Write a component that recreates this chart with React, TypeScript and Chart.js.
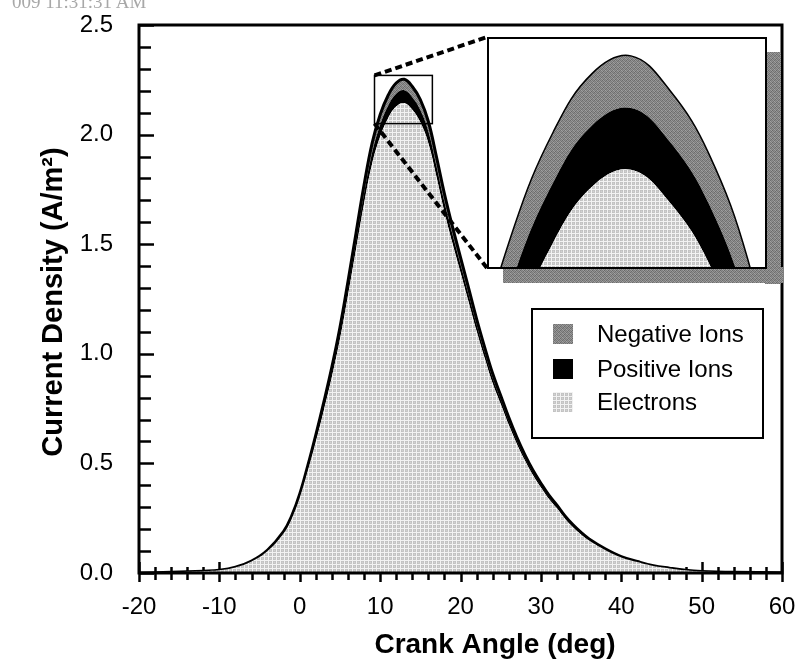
import React, { useEffect, useRef } from "react";
import { Chart, registerables } from "chart.js";
Chart.register(...registerables);

// ---------- data ----------
const crankAngle = [-20, -16, -12, -10, -8, -6, -4, -2, -1, 0, 1, 2, 3, 4, 5, 6, 7, 8, 9, 10, 11, 12, 13, 14, 15, 16, 17, 18, 19, 20, 21, 22, 23, 24, 25, 26, 27, 28, 29, 30, 31, 32, 33, 34, 35, 36, 38, 40, 42, 44, 46, 48, 50, 54, 60];
const electrons = [0, 0.003, 0.008, 0.012, 0.025, 0.052, 0.1, 0.181, 0.248, 0.343, 0.466, 0.6, 0.743, 0.895, 1.066, 1.266, 1.476, 1.685, 1.866, 1.99, 2.075, 2.128, 2.144, 2.113, 2.056, 1.961, 1.809, 1.647, 1.504, 1.371, 1.238, 1.104, 0.981, 0.866, 0.771, 0.676, 0.59, 0.514, 0.447, 0.39, 0.338, 0.295, 0.248, 0.209, 0.176, 0.148, 0.105, 0.071, 0.05, 0.032, 0.021, 0.012, 0.007, 0.003, 0.001];
const positiveIons = [0, 0.0001, 0.0002, 0.0003, 0.0007, 0.0014, 0.0027, 0.0049, 0.0068, 0.0094, 0.0127, 0.0164, 0.0203, 0.0244, 0.0291, 0.0346, 0.0403, 0.046, 0.051, 0.0543, 0.0567, 0.0581, 0.0586, 0.0577, 0.0562, 0.0536, 0.0494, 0.045, 0.0411, 0.0374, 0.0338, 0.0302, 0.0268, 0.0237, 0.0211, 0.0185, 0.0161, 0.014, 0.0122, 0.0107, 0.0092, 0.0081, 0.0068, 0.0057, 0.0048, 0.004, 0.0029, 0.002, 0.0014, 0.0009, 0.0006, 0.0003, 0.0002, 0.0001, 0];
const negativeIons = [0, 0.0001, 0.0002, 0.0003, 0.0006, 0.0012, 0.0023, 0.0042, 0.0057, 0.0079, 0.0108, 0.0139, 0.0172, 0.0207, 0.0246, 0.0293, 0.0341, 0.0389, 0.0431, 0.046, 0.048, 0.0492, 0.0495, 0.0488, 0.0475, 0.0453, 0.0418, 0.0381, 0.0348, 0.0317, 0.0286, 0.0255, 0.0227, 0.02, 0.0178, 0.0156, 0.0136, 0.0119, 0.0103, 0.009, 0.0078, 0.0068, 0.0057, 0.0048, 0.0041, 0.0034, 0.0024, 0.0017, 0.0011, 0.0007, 0.0005, 0.0003, 0.0002, 0.0001, 0];
const seriesNames = ["Electrons", "Positive Ions", "Negative Ions"];
const xTickLabels = [-20, -10, 0, 10, 20, 30, 40, 50, 60];
const yTickLabels = [0, 0.5, 1.0, 1.5, 2.0, 2.5];
const xRange = [-20, 60];
const yRange = [0, 2.5];
const zoomXRange = [9.3, 16.5];
const zoomYRange = [2.05, 2.27];
const xTitle = "Crank Angle (deg)";
const yTitle = "Current Density (A/m\u00B2)";
const stampText = "009 11:31:31 AM";

// ---------- styling ----------
const FONT = "'Liberation Sans', Arial, Helvetica, sans-serif";
const W = 796;
const H = 668;
const INSET = { left: 487, top: 37, width: 280, height: 232 };

const electronTile = [
  ["#f2f2f2", "#f2f2f2", "#f2f2f2", "#f2f2f2"],
  ["#f2f2f2", "#c2c2c2", "#c6c6c6", "#c0c0c0"],
  ["#f2f2f2", "#c6c6c6", "#d2d2d2", "#c4c4c4"],
  ["#f2f2f2", "#c0c0c0", "#c4c4c4", "#c8c8c8"],
];
const negativeTile = [
  ["#7a7a7a", "#9a9a9a", "#6e6e6e", "#8c8c8c"],
  ["#949494", "#727272", "#a2a2a2", "#7e7e7e"],
  ["#686868", "#8e8e8e", "#7c7c7c", "#9e9e9e"],
  ["#9a9a9a", "#767676", "#909090", "#6c6c6c"],
];

function makePattern(ctx: CanvasRenderingContext2D, tile: string[][]) {
  const c = document.createElement("canvas");
  c.width = tile[0].length;
  c.height = tile.length;
  const g = c.getContext("2d")!;
  tile.forEach((row, y) =>
    row.forEach((col, x) => {
      g.fillStyle = col;
      g.fillRect(x, y, 1, 1);
    })
  );
  return ctx.createPattern(c, "repeat")!;
}

function buildDatasets(ctx: CanvasRenderingContext2D, outline: number) {
  const ePat = makePattern(ctx, electronTile);
  const nPat = makePattern(ctx, negativeTile);
  const pts = (arr: number[]) => crankAngle.map((x, i) => ({ x, y: arr[i] }));
  const common = { pointRadius: 0, tension: 0.4 };
  return [
    { ...common, label: seriesNames[0], data: pts(electrons), backgroundColor: ePat, borderWidth: 0, borderColor: "rgba(0,0,0,0)", fill: "origin" },
    { ...common, label: seriesNames[1], data: pts(positiveIons), backgroundColor: "#000000", borderWidth: 0, borderColor: "rgba(0,0,0,0)", fill: "-1" },
    { ...common, label: seriesNames[2], data: pts(negativeIons), backgroundColor: nPat, borderWidth: outline, borderColor: "#000000", fill: "-1" },
  ];
}

const mainDecor = {
  id: "mainDecor",
  beforeDraw(chart: any) {
    const { ctx, width, height } = chart;
    ctx.save();
    ctx.fillStyle = "#ffffff";
    ctx.fillRect(0, 0, width, height);
    ctx.restore();
  },
  beforeDatasetsDraw(chart: any) {
    const { ctx, chartArea } = chart;
    const xs = chart.scales.x;
    const ys = chart.scales.y;
    ctx.save();
    ctx.strokeStyle = "#000";
    ctx.lineWidth = 2.5;
    for (let i = 0; i <= 25; i++) {
      const y = Math.round(ys.getPixelForValue(i / 10)) + 0.5;
      const len = i % 5 === 0 ? 15 : 12;
      ctx.beginPath();
      ctx.moveTo(chartArea.left, y);
      ctx.lineTo(chartArea.left + len, y);
      ctx.stroke();
    }
    for (let v = xRange[0]; v <= xRange[1]; v += 2) {
      const x = Math.round(xs.getPixelForValue(v)) + 0.5;
      const major = v % 10 === 0;
      ctx.beginPath();
      ctx.moveTo(x, chartArea.bottom - (major ? 11 : 6));
      ctx.lineTo(x, chartArea.bottom + (major ? 9 : 7));
      ctx.stroke();
    }
    ctx.restore();
  },
  afterDatasetsDraw(chart: any) {
    const { ctx, chartArea } = chart;
    const xs = chart.scales.x;
    const ys = chart.scales.y;
    ctx.save();
    ctx.strokeStyle = "#000";
    ctx.lineWidth = 3;
    ctx.strokeRect(chartArea.left, chartArea.top, chartArea.right - chartArea.left, chartArea.bottom - chartArea.top);

    const bx0 = xs.getPixelForValue(zoomXRange[0]);
    const bx1 = xs.getPixelForValue(zoomXRange[1]);
    const by0 = ys.getPixelForValue(zoomYRange[1]);
    const by1 = ys.getPixelForValue(zoomYRange[0]);
    ctx.lineWidth = 1.5;
    ctx.strokeRect(bx0, by0, bx1 - bx0, by1 - by0);

    const shadow = makePattern(ctx, negativeTile);
    ctx.fillStyle = shadow;
    ctx.fillRect(INSET.left + INSET.width - 2, INSET.top + 15, 16, INSET.height);
    ctx.fillRect(INSET.left + 16, INSET.top + INSET.height - 2, INSET.width, 16);

    ctx.setLineDash([7, 4]);
    ctx.lineWidth = 4;
    ctx.beginPath();
    ctx.moveTo(bx0, by0);
    ctx.lineTo(INSET.left, INSET.top);
    ctx.moveTo(bx0, by1);
    ctx.lineTo(INSET.left, INSET.top + INSET.height - 1);
    ctx.stroke();
    ctx.setLineDash([]);

    const lx = 532, ly = 309, lw = 231, lh = 129;
    ctx.fillStyle = "#fff";
    ctx.fillRect(lx, ly, lw, lh);
    ctx.lineWidth = 2;
    ctx.strokeStyle = "#000";
    ctx.strokeRect(lx, ly, lw, lh);
    const ds = chart.data.datasets.slice().reverse();
    const rowY = [334, 369, 402];
    ctx.font = `24px ${FONT}`;
    ctx.textBaseline = "middle";
    ctx.textAlign = "left";
    ds.forEach((d: any, i: number) => {
      ctx.fillStyle = d.backgroundColor;
      ctx.fillRect(553, rowY[i] - 10, 20, 20);
      ctx.fillStyle = "#000";
      ctx.fillText(d.label, 597, rowY[i] + 1);
    });

    ctx.font = `bold 28px ${FONT}`;
    ctx.fillStyle = "#000";
    ctx.textAlign = "center";
    ctx.textBaseline = "middle";
    ctx.fillText(xTitle, 495, 645);
    ctx.save();
    ctx.translate(54, 302);
    ctx.rotate(-Math.PI / 2);
    ctx.font = `bold 29px ${FONT}`;
    ctx.fillText(yTitle, 0, 0);
    ctx.restore();
    ctx.restore();
  },
};

const insetDecor = {
  id: "insetDecor",
  beforeDraw(chart: any) {
    const { ctx, width, height } = chart;
    ctx.save();
    ctx.fillStyle = "#ffffff";
    ctx.fillRect(0, 0, width, height);
    ctx.restore();
  },
  afterDraw(chart: any) {
    const { ctx, width, height } = chart;
    ctx.save();
    ctx.strokeStyle = "#000";
    ctx.lineWidth = 2;
    ctx.strokeRect(1, 1, width - 2, height - 2);
    ctx.restore();
  },
};

export default function App() {
  const mainRef = useRef<HTMLCanvasElement>(null);
  const insetRef = useRef<HTMLCanvasElement>(null);

  useEffect(() => {
    const mctx = mainRef.current!.getContext("2d")!;
    const main = new Chart(mctx, {
      type: "line",
      data: { datasets: buildDatasets(mctx, 3) as any },
      plugins: [mainDecor],
      options: {
        responsive: false,
        animation: false,
        layout: { padding: { left: 0, top: 25, right: 14, bottom: 0 } },
        plugins: { legend: { display: false }, tooltip: { enabled: false }, title: { display: false } },
        scales: {
          x: {
            type: "linear",
            min: xRange[0],
            max: xRange[1],
            afterBuildTicks: (s: any) => { s.ticks = xTickLabels.map((v) => ({ value: v })); },
            afterFit: (s: any) => { s.height = H - 573; s.paddingLeft = 0; s.paddingRight = 0; },
            ticks: { color: "#000", font: { family: FONT, size: 24 }, padding: 20, maxRotation: 0, autoSkip: false, callback: (v: any) => String(v) },
            grid: { display: false, drawTicks: false },
            border: { display: false },
          },
          y: {
            type: "linear",
            min: yRange[0],
            max: yRange[1],
            stacked: true,
            afterBuildTicks: (s: any) => { s.ticks = yTickLabels.map((v) => ({ value: v })); },
            afterFit: (s: any) => { s.width = 139; s.paddingTop = 0; s.paddingBottom = 0; },
            ticks: { color: "#000", font: { family: FONT, size: 24 }, padding: 26, autoSkip: false, callback: (v: any) => Number(v).toFixed(1) },
            grid: { display: false, drawTicks: false },
            border: { display: false },
          },
        },
      } as any,
    });

    const ictx = insetRef.current!.getContext("2d")!;
    const inset = new Chart(ictx, {
      type: "line",
      data: { datasets: buildDatasets(ictx, 1.5) as any },
      plugins: [insetDecor],
      options: {
        responsive: false,
        animation: false,
        layout: { padding: 0 },
        plugins: { legend: { display: false }, tooltip: { enabled: false } },
        scales: {
          x: { type: "linear", display: false, min: zoomXRange[0], max: zoomXRange[1] },
          y: { type: "linear", display: false, min: zoomYRange[0], max: zoomYRange[1], stacked: true },
        },
      } as any,
    });

    return () => {
      main.destroy();
      inset.destroy();
    };
  }, []);

  return (
    <div style={{ position: "fixed", left: 0, top: 0, width: W, height: H, background: "#fff", overflow: "hidden" }}>
      <canvas ref={mainRef} width={W} height={H} style={{ position: "absolute", left: 0, top: 0, width: W, height: H }} />
      <canvas ref={insetRef} width={INSET.width} height={INSET.height} style={{ position: "absolute", left: INSET.left, top: INSET.top, width: INSET.width, height: INSET.height }} />
      <div style={{ position: "absolute", left: 12, top: -8, color: "#a8a8a8", fontFamily: "'Liberation Serif', serif", fontSize: 19, lineHeight: "20px", whiteSpace: "nowrap" }}>{stampText}</div>
    </div>
  );
}
